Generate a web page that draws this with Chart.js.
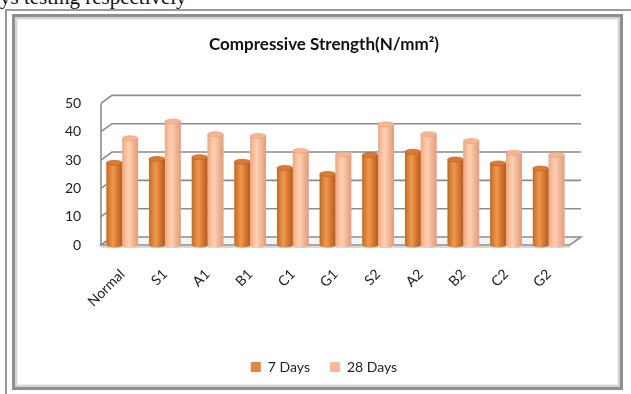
<!DOCTYPE html>
<html lang="en">
<head>
<meta charset="UTF-8" />
<title>Compressive Strength</title>
<script src="https://cdn.jsdelivr.net/npm/chart.js@4.4.0/dist/chart.umd.min.js"></script>
<style>
  body { margin: 0; width: 631px; height: 394px; overflow: hidden; background: #fff; position: relative; }
  #pagetext { position: absolute; left: 0; top: -15px; font-family: 'Liberation Serif', serif; font-size: 21px; color: #111; white-space: nowrap; }
  #outer { position: absolute; left: 5px; top: 9px; width: 640px; height: 400px; border-left: 2px solid #9a9a9a; border-top: 2px solid #9a9a9a; }
  #frame { position: absolute; left: 12px; top: 14px; width: 605px; height: 370px; border: 3px solid #8f8f8f; box-shadow: inset 0 0 0 2px #d4d4d4, inset 0 0 0 3px #eeeeee; background: #fff; }
  #chart { position: absolute; left: 18px; top: 19px; }
</style>
</head>
<body>
<div id="pagetext">ys testing respectively</div>
<div id="outer"></div>
<div id="frame"></div>
<canvas id="chart" width="620" height="369"></canvas>

<script>
// data
const categories = ['Normal', 'S1', 'A1', 'B1', 'C1', 'G1', 'S2', 'A2', 'B2', 'C2', 'G2'];
const days7 = [29.0, 30.4, 31.0, 29.4, 27.2, 25.1, 31.8, 32.9, 30.2, 28.8, 27.0];
const days28 = [37.7, 43.6, 39.1, 38.5, 33.2, 32.0, 42.6, 39.1, 36.7, 32.6, 31.8];
const yTicks = [0, 10, 20, 30, 40, 50];

const DEPTH_X = 11, DEPTH_Y = 8; // 3d wall offset

// cylinder shading over each bar, plus the ellipse on top
const cylinders = {
    id: 'cylinders',
    afterDatasetsDraw(chart) {
        const ctx = chart.ctx;
        chart.data.datasets.forEach((ds, di) => {
            const meta = chart.getDatasetMeta(di);
            meta.data.forEach(bar => {
                const left = bar.x - bar.width / 2, right = bar.x + bar.width / 2;
                const rx = bar.width / 2, ry = 2.5;
                const g = ctx.createLinearGradient(left, 0, right, 0);
                g.addColorStop(0, ds.shade[0]);
                g.addColorStop(0.4, ds.shade[1]);
                g.addColorStop(1, ds.shade[2]);
                ctx.save();
                ctx.fillStyle = g;
                ctx.fillRect(left, bar.y, bar.width, bar.base - bar.y);
                // rounded base
                ctx.beginPath();
                ctx.ellipse(bar.x, bar.base, rx, ry, 0, 0, Math.PI);
                ctx.fill();
                // top
                ctx.beginPath();
                ctx.ellipse(bar.x, bar.y, rx, ry, 0, 0, Math.PI * 2);
                ctx.fillStyle = ds.topColor;
                ctx.fill();
                ctx.strokeStyle = ds.shade[2];
                ctx.lineWidth = 0.6;
                ctx.stroke();
                ctx.restore();
            });
        });
    }
};

// back wall, side wall and floor of the 3d plot
const walls = {
    id: 'walls',
    beforeDatasetsDraw(chart) {
        const ctx = chart.ctx;
        const y = chart.scales.y;
        const area = chart.chartArea;
        const p0 = y.getPixelForValue(0), p50 = y.getPixelForValue(50);
        ctx.save();
        // floor
        ctx.fillStyle = '#f4f4f4';
        ctx.strokeStyle = '#8c8c8c';
        ctx.lineWidth = 1.6;
        ctx.beginPath();
        ctx.moveTo(area.left, p0);
        ctx.lineTo(area.left + DEPTH_X, p0 - DEPTH_Y);
        ctx.lineTo(area.right + DEPTH_X, p0 - DEPTH_Y);
        ctx.lineTo(area.right, p0);
        ctx.closePath();
        ctx.fill();
        ctx.stroke();
        yTicks.forEach(v => {
            if (v === 0) return;
            const py = y.getPixelForValue(v);
            ctx.beginPath();
            ctx.moveTo(area.left, py);
            ctx.lineTo(area.left + DEPTH_X, py - DEPTH_Y);
            ctx.lineTo(area.right + DEPTH_X, py - DEPTH_Y);
            ctx.stroke();
        });
        // side wall vertical
        ctx.beginPath();
        ctx.moveTo(area.left, p0);
        ctx.lineTo(area.left, p50);
        ctx.stroke();
        ctx.beginPath();
        ctx.moveTo(area.left, p0 + 2);
        ctx.lineTo(area.right, p0 + 2);
        ctx.strokeStyle = '#cccccc';
        ctx.stroke();
        ctx.restore();
    }
};

const font = "Lato, 'Liberation Sans', sans-serif";

new Chart(document.getElementById('chart'), {
    type: 'bar',
    data: {
        labels: categories,
        datasets: [{
            label: '7 Days',
            data: days7,
            backgroundColor: '#e2863f',
            shade: ['#c9681f', '#f0984f', '#b75a1a'],
            topColor: '#dc7a34'
        }, {
            label: '28 Days',
            data: days28,
            backgroundColor: '#fbb895',
            shade: ['#f0a883', '#ffd0b3', '#e29c79'],
            topColor: '#f8b690'
        }]
    },
    options: {
        responsive: false,
        animation: false,
        layout: { padding: { left: 60, right: 68, top: 8, bottom: 4 } },
        datasets: { bar: { categoryPercentage: 0.74, barPercentage: 1.0 } },
        scales: {
            x: {
                grid: { display: false },
                border: { display: false },
                afterFit(scale) { scale.height = 95; },
                ticks: {
                    color: '#222',
                    font: { family: font, size: 14 },
                    maxRotation: 45, minRotation: 45,
                    padding: 13
                }
            },
            y: {
                min: 0, max: 50,
                afterBuildTicks(scale) { scale.ticks = yTicks.map(v => ({ value: v })); },
                grid: { display: false, drawTicks: false },
                border: { display: false },
                afterFit(scale) { scale.width = 23; },
                ticks: {
                    color: '#222',
                    font: { family: font, size: 14 },
                    mirror: true,
                    crossAlign: 'far',
                    padding: -36
                }
            }
        },
        plugins: {
            title: {
                display: true,
                text: 'Compressive Strength(N/mm²)',
                color: '#111',
                font: { family: font, size: 17, weight: 'bold' },
                padding: { top: 7, bottom: 49 }
            },
            legend: {
                position: 'bottom',
                labels: {
                    color: '#222',
                    font: { family: font, size: 14 },
                    boxWidth: 10, boxHeight: 10,
                    padding: 20
                }
            },
            tooltip: { enabled: false }
        }
    },
    plugins: [walls, cylinders]
});
</script>
</body>
</html>
